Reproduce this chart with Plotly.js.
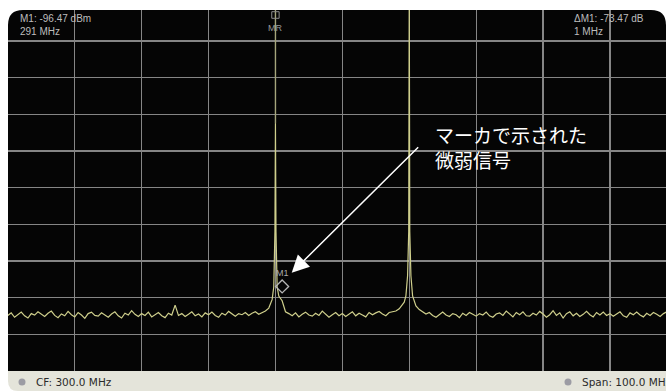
<!DOCTYPE html>
<html>
<head>
<meta charset="utf-8">
<script src="https://cdn.plot.ly/plotly-3.0.1.min.js"></script>
<style>
html,body{margin:0;padding:0;background:#fff;overflow:hidden;}
#chart{width:666px;height:391px;}
</style>
</head>
<body>
<div id="chart"></div>
<script>
const sweepStartMHz = 250;
const sweepStepMHz = 0.5;
// trace level every 0.5 MHz from 250 to 350 MHz (dB, ref 0 at top graticule, 10 dB/div)
const traceDb = [
  -84.8,-84.1,-85.3,-84.6,-83.9,-84.9,-85.5,-84.3,-84.7,-83.8,-84.5,-85.1,-84.2,-83.6,-84.8,-85.4,-84.4,-84.9,-83.7,-84.6,
  -85.2,-84.0,-84.7,-85.6,-84.3,-83.9,-84.8,-85.0,-84.1,-84.6,-85.3,-84.4,-83.8,-84.9,-85.5,-84.2,-84.7,-83.5,-84.5,-85.1,
  -84.3,-84.8,-83.9,-85.2,-84.6,-84.0,-84.9,-85.4,-84.2,-84.7,-82.0,-84.8,-84.3,-85.1,-84.5,-83.8,-84.9,-84.4,-85.2,-84.1,
  -84.6,-83.9,-84.8,-85.3,-84.2,-84.7,-83.7,-84.4,-85.0,-84.3,-84.6,-84.0,-84.8,-84.2,-83.8,-84.5,-84.1,-83.6,-82.8,-80.5,
  -32.4,-79.5,-80.8,-83.8,-84.3,-84.9,-84.1,-85.2,-84.5,-83.9,-84.7,-85.0,-84.2,-84.8,-83.6,-84.4,-85.3,-84.6,-84.0,-84.9,
  -84.3,-85.1,-84.5,-83.8,-84.9,-84.2,-84.7,-85.2,-84.0,-84.6,-84.1,-83.7,-84.4,-84.9,-84.0,-83.9,-83.6,-83.0,-82.0,-79.5,
  5.0,-79.5,-82.2,-83.2,-83.8,-84.4,-84.0,-84.8,-85.3,-84.5,-83.9,-84.7,-85.1,-84.3,-84.6,-85.4,-84.2,-84.8,-84.0,-84.5,
  -85.0,-84.3,-84.7,-83.9,-84.9,-85.3,-84.4,-84.1,-84.8,-83.6,-84.5,-85.2,-84.0,-84.6,-83.8,-84.9,-85.0,-84.2,-84.7,-83.7,
  -84.4,-85.3,-84.6,-83.5,-84.8,-84.1,-85.5,-84.3,-83.8,-84.9,-84.2,-85.1,-84.5,-83.7,-84.6,-85.2,-84.0,-84.7,-83.9,-84.8,
  -84.3,-85.0,-84.4,-83.8,-84.9,-85.3,-84.1,-84.6,-83.9,-84.7,-85.2,-84.2,-84.8,-84.0,-84.5,-85.1,-84.3,-83.8,-84.9,-84.4,
  -84.6
];
// extra sweep points around the two carriers
const peakDetailMHz = [289.75, 289.92, 290.08, 290.25, 309.25, 309.75, 309.92, 310.08, 310.25, 310.75];
const peakDetailDb  = [-77.0, -62.0, -62.0, -77.0, -81.2, -74.0, -62.0, -62.0, -74.0, -81.2];

// markers
const markerNames = ['MR', 'M1'];
const markerFreqMHz = [290, 291];
const markerLevelDb = [-32.4, -76.9];

// readouts
const readoutLeft = ['M1: -96.47 dBm', '291 MHz'];
const readoutRight = ['\u0394M1: -73.47 dB', '1 MHz'];
const footerLeft = 'CF: 300.0 MHz';
const footerRight = 'Span: 100.0 MHz';
const calloutLines = ['マーカで示された', '微弱信号'];

// ---- Build trace ----
const pts = traceDb.map((v, i) => [sweepStartMHz + sweepStepMHz * i, v])
  .concat(peakDetailMHz.map((f, i) => [f, peakDetailDb[i]]))
  .sort((a, b) => a[0] - b[0]);
const xs = pts.map(p => p[0]);
const ys = pts.map(p => p[1]);

const traceColor = '#cfcf8c';
const data = [
  {x: xs, y: ys, type: 'scatter', mode: 'lines', line: {color: traceColor, width: 1.2}, hoverinfo: 'skip'},
  {x: [markerFreqMHz[1]], y: [markerLevelDb[1]], type: 'scatter', mode: 'markers',
   marker: {symbol: 'diamond-open', size: 10, color: '#b5b5b5', line: {width: 1.3, color: '#b5b5b5'}}, hoverinfo: 'skip'}
];

// ---- Layout ----
const W = 658, H = 361;
const px = v => v / W, py = v => v / H;
const rx = px(15), ry = py(15);
const barH = py(20);
const shapes = [
  {type: 'path', xref: 'paper', yref: 'paper', layer: 'below', fillcolor: '#050505', line: {width: 0},
   path: `M0,0 L0,${1 - ry} Q0,1 ${rx},1 L${1 - rx},1 Q1,1 1,${1 - ry} L1,0 Z`},
  {type: 'path', xref: 'paper', yref: 'paper', layer: 'below', fillcolor: '#e4e4da', line: {width: 0},
   path: `M0,0 L1,0 L1,${-barH} L${px(10)},${-barH} Q0,${-barH} 0,${-barH + py(10)} Z`},
  // MR marker line
  {type: 'line', xref: 'x', yref: 'y', x0: markerFreqMHz[0], x1: markerFreqMHz[0], y0: markerLevelDb[0], y1: 5,
   line: {color: '#a5a57c', width: 1.4}},
  // MR flag box at top
  {type: 'rect', xref: 'x', xsizemode: 'pixel', xanchor: markerFreqMHz[0], x0: -3.7, x1: 3.7,
   yref: 'paper', ysizemode: 'pixel', yanchor: 1, y0: -1.7, y1: -8.3,
   line: {color: '#8c8c8c', width: 1}, fillcolor: 'rgba(0,0,0,0)'},
  // footer icons
  {type: 'circle', xref: 'paper', xsizemode: 'pixel', xanchor: px(14), x0: -3.5, x1: 3.5,
   yref: 'paper', ysizemode: 'pixel', yanchor: py(-11), y0: -3.5, y1: 3.5, fillcolor: '#9c9ca4', line: {width: 0}},
  {type: 'circle', xref: 'paper', xsizemode: 'pixel', xanchor: px(560), x0: -3.5, x1: 3.5,
   yref: 'paper', ysizemode: 'pixel', yanchor: py(-11), y0: -3.5, y1: 3.5, fillcolor: '#9c9ca4', line: {width: 0}}
];

const readFont = {family: 'Liberation Sans, Arial, sans-serif', size: 10, color: '#bdbdbd'};
const footFont = {family: 'DejaVu Sans, sans-serif', size: 10.5, color: '#2a2a2a'};
const jpFont = {family: 'Noto Sans CJK JP, sans-serif', size: 19, color: '#ffffff'};
const ann = (text, x, y, font, extra) => Object.assign({text, x, y, xref: 'paper', yref: 'paper',
  xanchor: 'left', yanchor: 'middle', showarrow: false, font}, extra || {});

const annotations = [
  ann(readoutLeft[0], px(9.5), 1 - py(8), readFont),
  ann(readoutLeft[1], px(9.5), 1 - py(21), readFont),
  ann(readoutRight[0], px(563.5), 1 - py(8), readFont),
  ann(readoutRight[1], px(563.5), 1 - py(21), readFont),
  {text: markerNames[0], x: markerFreqMHz[0], xref: 'x', y: 1 - py(18), yref: 'paper', xanchor: 'center', yanchor: 'middle',
   showarrow: false, font: {family: 'Liberation Sans, Arial, sans-serif', size: 9, color: '#9a9a9a'}},
  {text: markerNames[1], x: markerFreqMHz[1], xref: 'x', y: markerLevelDb[1], yref: 'y', yshift: 13, xanchor: 'center', yanchor: 'middle',
   showarrow: false, font: {family: 'Liberation Sans, Arial, sans-serif', size: 9, color: '#ababab'}},
  ann(calloutLines.join('<br>'), px(425), 1 - py(137), jpFont, {align: 'left'}),
  // arrow to the weak signal marker
  {text: '', x: px(283.7), y: 1 - py(262.7), xref: 'paper', yref: 'paper', showarrow: true,
   ax: 128, ay: -127, arrowhead: 2, arrowsize: 2.3, arrowwidth: 1.5, arrowcolor: '#ffffff', standoff: 0},
  ann(footerLeft, px(26), py(-11), footFont),
  ann(footerRight, px(572), py(-11), footFont)
];

const axisCommon = {showgrid: true, gridcolor: '#868686', gridwidth: 1.3, zeroline: false, showticklabels: false,
  ticks: '', showline: false, fixedrange: true};
const layout = {
  width: 666, height: 391,
  margin: {l: 8, r: 0, t: 10, b: 20, pad: 0},
  paper_bgcolor: '#ffffff', plot_bgcolor: 'rgba(0,0,0,0)',
  showlegend: false,
  xaxis: Object.assign({range: [250.02, 348.38], dtick: 10, tick0: 250}, axisCommon),
  yaxis: Object.assign({range: [-99.95, -1.53], dtick: 10, tick0: 0}, axisCommon),
  shapes, annotations
};
Plotly.newPlot('chart', data, layout, {staticPlot: true, displayModeBar: false});
</script>
</body>
</html>
